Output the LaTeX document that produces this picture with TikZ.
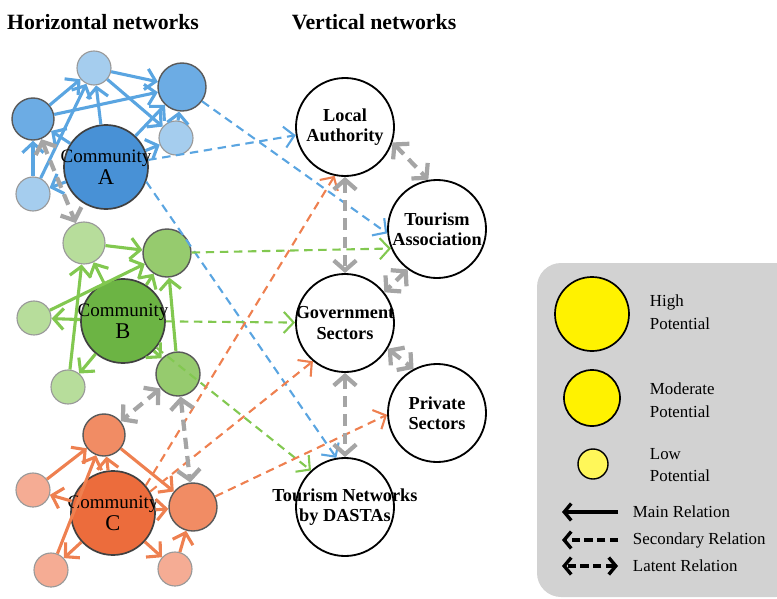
\documentclass[tikz,border=0pt]{standalone}
\usepackage{fontspec}
\setmainfont{Liberation Serif}
\usetikzlibrary{arrows.meta}

\definecolor{blueE}{RGB}{90,165,225}
\definecolor{blueC}{RGB}{72,145,214}
\definecolor{blueM}{RGB}{108,172,228}
\definecolor{blueS}{RGB}{165,205,238}
\definecolor{greenE}{RGB}{130,200,80}
\definecolor{greenC}{RGB}{108,180,68}
\definecolor{greenM}{RGB}{150,203,110}
\definecolor{greenS}{RGB}{183,221,155}
\definecolor{orangeE}{RGB}{238,128,80}
\definecolor{orangeC}{RGB}{236,108,60}
\definecolor{orangeM}{RGB}{241,140,100}
\definecolor{orangeS}{RGB}{245,172,148}
\definecolor{latgray}{RGB}{165,165,165}
\definecolor{legbg}{RGB}{210,210,210}

\tikzset{
	comm/.style={circle, draw=black!75, line width=1.2pt, minimum size=2.1cm, inner sep=0pt},
	midc/.style={circle, draw=black!65, line width=1pt, minimum size=1.2cm, inner sep=0pt},
	smallc/.style={circle, draw=gray!80, line width=0.8pt, minimum size=0.85cm, inner sep=0pt},
	vert/.style={circle, draw=black, line width=1.3pt, fill=white, minimum size=2.45cm, inner sep=0pt},
	commtxt/.style={align=center, font=\fontsize{13.5}{15.5}\selectfont},
	verttxt/.style={align=center, font=\fontsize{13}{14.5}\selectfont\bfseries},
	legtxt/.style={align=left, anchor=west, font=\fontsize{12}{16}\selectfont},
	mainrel/.style={line width=2.2pt, -{Straight Barb[length=7pt,width=15pt]}},
	secrel/.style={line width=1.5pt, dash pattern=on 6pt off 4pt, -{Straight Barb[length=7pt,width=15pt]}},
	latrel/.style={draw=latgray, line width=3pt, dash pattern=on 8pt off 5pt, {Straight Barb[length=7pt,width=16pt]}-{Straight Barb[length=7pt,width=16pt]}},
}

\begin{document}
\begin{tikzpicture}[x=0.025cm, y=-0.025cm]
	\useasboundingbox (0,0) rectangle (777,599);
				\node (th) at (103,22) {\fontsize{15.5}{17}\selectfont\bfseries Horizontal networks};
				\node (tv) at (374,22) {\fontsize{15.5}{17}\selectfont\bfseries Vertical networks};

			\node (ca) at (106,167) [comm, fill=blueC, label={[commtxt]center:{Community\\{\fontsize{16}{16}\selectfont A}}}] {};
			\node (a1) at (94,68) [smallc, fill=blueS] {};
			\node (a2) at (182,87) [midc, fill=blueM] {};
			\node (a3) at (33,119) [midc, fill=blueM, minimum size=1.05cm] {};
			\node (a4) at (176,138) [smallc, fill=blueS] {};
			\node (a5) at (33,194) [smallc, fill=blueS] {};

			\node (cb) at (123,321) [comm, fill=greenC, label={[commtxt]center:{Community\\{\fontsize{16}{16}\selectfont B}}}] {};
			\node (b1) at (84,243) [smallc, fill=greenS, minimum size=1.05cm] {};
			\node (b2) at (167,253) [midc, fill=greenM] {};
			\node (b3) at (34,318) [smallc, fill=greenS] {};
			\node (b4) at (68,387) [smallc, fill=greenS] {};
			\node (b5) at (178,374) [midc, fill=greenM, minimum size=1.1cm] {};

			\node (cc) at (113,513) [comm, fill=orangeC, label={[commtxt]center:{Community\\{\fontsize{16}{16}\selectfont C}}}] {};
			\node (c1) at (104,435) [midc, fill=orangeM, minimum size=1.05cm] {};
			\node (c2) at (33,490) [smallc, fill=orangeS] {};
			\node (c3) at (193,507) [midc, fill=orangeM] {};
			\node (c4) at (51,570) [smallc, fill=orangeS] {};
			\node (c5) at (175,569) [smallc, fill=orangeS] {};

			\node (la) at (345,127) [vert, label={[verttxt]center:{Local\\Authority}}] {};
			\node (ta) at (437,229) [vert, label={[verttxt]center:{Tourism\\Association}}] {};
			\node (gov) at (345,323) [vert, label={[verttxt]center:{Government\\Sectors}}] {};
			\node (ps) at (437,413) [vert, label={[verttxt]center:{Private\\Sectors}}] {};
			\node (dasta) at (345,507) [vert, label={[verttxt]center:{Tourism Networks\\by DASTAs}}] {};

			\draw[blueE]
			(a1) edge[mainrel] (a2)
			(a3) edge[mainrel] (a2)
			(ca) edge[mainrel] (a1)
			(a3) edge[mainrel] (a1)
			(a5) edge[mainrel] (a1)
			(a1) edge[mainrel] (a4)
			(a5) edge[mainrel] (a3)
			(ca) edge[mainrel] (a3)
			(ca) edge[mainrel] (a5)
			(ca) edge[mainrel] (a4)
			(ca) edge[mainrel] (a2)
			(a4) edge[mainrel] (a2)
			(ca) edge[secrel] (la)
			(a2) edge[secrel] (ta.185)
			(ca.-20) edge[secrel] (dasta.100)
			;
			\draw[greenE]
			(b1) edge[mainrel] (b2)
			(b3) edge[mainrel] (b2)
			(cb) edge[mainrel] (b1)
			(b4) edge[mainrel] (b1)
			(cb) edge[mainrel] (b3)
			(cb) edge[mainrel] (b4)
			(cb) edge[mainrel] (b2)
			(b5) edge[mainrel] (b2)
			(cb) edge[mainrel] (b5)
			(b2) edge[secrel] (ta.203)
			(cb) edge[secrel] (gov)
			(cb) edge[secrel] (dasta.133)
			;
			\draw[orangeE]
			(c2) edge[mainrel] (c1)
			(c4) edge[mainrel] (c1)
			(cc) edge[mainrel] (c1)
			(c1) edge[mainrel] (c3)
			(cc) edge[mainrel] (c2)
			(cc) edge[mainrel] (c3)
			(cc) edge[mainrel] (c4)
			(cc) edge[mainrel] (c5)
			(c5) edge[mainrel] (c3)
			(cc.40) edge[secrel] (la.258)
			(cc.30) edge[secrel] (gov.230)
			(c3) edge[secrel] (ps.182)
			;
			\draw
			(a3) edge[latrel] (b1)
			(b5) edge[latrel] (c1)
			(b5) edge[latrel] (c3)
			(la.-18) edge[latrel] (ta.100)
			(la) edge[latrel] (gov)
			(ta.234) edge[latrel] (gov.38)
			(gov.-31) edge[latrel] (ps.118)
			(gov) edge[latrel] (dasta)
			;

			\fill[legbg, rounded corners=0.6cm] (537,263) rectangle (800,597);
			\node (hp) at (592,314) [circle, draw=black, line width=1.2pt, fill=yellow, minimum size=1.85cm] {};
			\node (mp) at (592,398) [circle, draw=black, line width=1.2pt, fill=yellow, minimum size=1.4cm] {};
			\node (lp) at (593,464) [circle, draw=black, line width=1pt, fill=yellow!65, minimum size=0.75cm] {};
			\node (hpt) at (645,312) [legtxt] {High\\Potential};
			\node (mpt) at (645,400) [legtxt] {Moderate\\Potential};
			\node (lpt) at (645,465) [legtxt] {Low\\Potential};
			\node (mrt) at (628,512) [legtxt] {Main Relation};
			\node (srt) at (628,540) [legtxt] {Secondary Relation};
			\node (lrt) at (628,566) [legtxt] {Latent Relation};
			\coordinate (m1) at (618,512);
			\coordinate (m2) at (562,512);
			\coordinate (s1) at (618,540);
			\coordinate (s2) at (562,540);
			\coordinate (l1) at (618,566);
			\coordinate (l2) at (562,566);
			\draw[line width=2.4pt, -{Straight Barb[length=5pt,width=12pt]}] (m1) -- (m2);
			\draw[line width=2.4pt, dash pattern=on 6pt off 3pt, -{Straight Barb[length=5pt,width=12pt]}] (s1) -- (s2);
			\draw[line width=2.4pt, dash pattern=on 6pt off 3pt, {Straight Barb[length=5pt,width=12pt]}-{Straight Barb[length=5pt,width=12pt]}] (l1) -- (l2);
		\end{tikzpicture}
\end{document}
